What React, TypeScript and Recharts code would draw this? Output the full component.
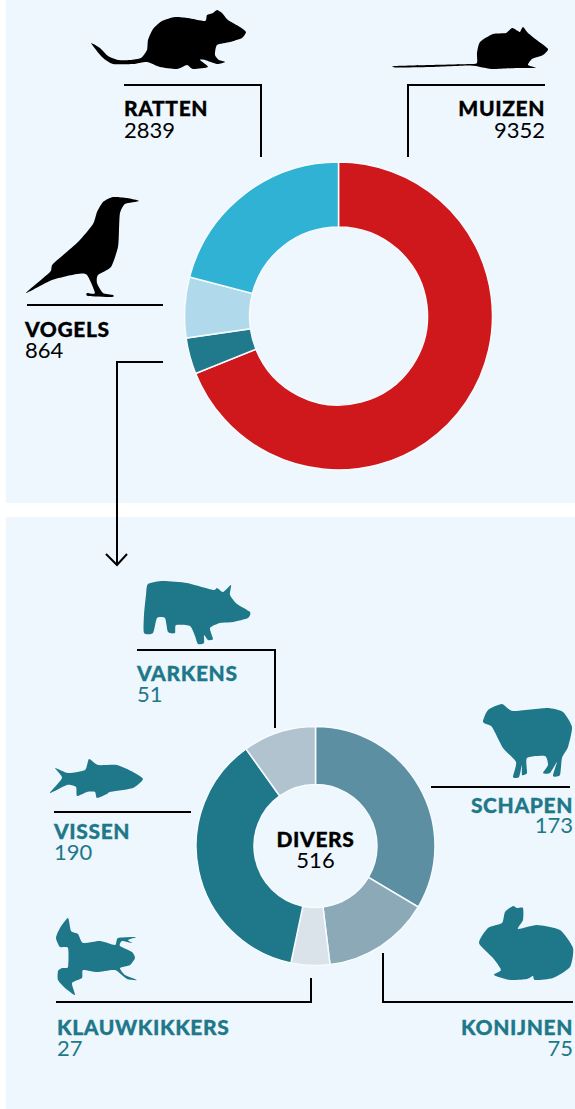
import { PieChart, Pie, Cell } from 'recharts'

const topNames = ['Muizen', 'Divers', 'Vogels', 'Ratten']
const topValues = [9352, 516, 864, 2839]
const topColors = ['#CF181B', '#217A8C', '#B0DAEB', '#30B2D5']

const diversNames = ['Schapen', 'Konijnen', 'Klauwkikkers', 'Vissen', 'Varkens']
const diversValues = [173, 75, 27, 190, 51]
const diversColors = ['#5B8FA1', '#8CA9B7', '#DAE3EA', '#1F788A', '#B1C3CE']

const topData = topNames.map((name, i) => ({ name, value: topValues[i] }))
const diversData = diversNames.map((name, i) => ({ name, value: diversValues[i] }))

const BG = '#EDF7FD'
const TEAL = '#1F788A'
const FONT = 'Lato, sans-serif'

type Pt = number[]

// closed smooth path through the outline points of a silhouette
function outline(p: Pt[]) {
  const n = p.length
  let d = `M${p[0][0]} ${p[0][1]}`
  for (let i = 0; i < n; i++) {
    const a = p[(i - 1 + n) % n]
    const b = p[i]
    const c = p[(i + 1) % n]
    const e = p[(i + 2) % n]
    const k = 0.1
    d += `C${b[0] + (c[0] - a[0]) * k} ${b[1] + (c[1] - a[1]) * k} ${c[0] - (e[0] - b[0]) * k} ${c[1] - (e[1] - b[1]) * k} ${c[0]} ${c[1]}`
  }
  return d + 'Z'
}

const rat: Pt[] = [[91,43],[100,48],[108,56],[118,60],[130,60],[141,58],[147,50],[148,40],[153,29],[162,21],[175,17],[188,18],[205,21],[207,15],[213,13],[217,10],[222,13],[228,20],[240,27],[246,32],[242,38],[230,42],[217,45],[215,55],[219,60],[225,62],[217,64],[205,60],[200,60],[208,67],[193,69],[187,65],[177,69],[160,67],[147,62],[133,64],[113,64],[102,57]]
const mouse: Pt[] = [[395,66],[430,65],[470,64],[477,63],[477,53],[480,42],[493,34],[506,33],[512,28],[518,31],[520,32],[523,27],[528,33],[538,41],[548,49],[543,55],[532,59],[528,65],[536,68],[517,68],[493,69],[480,67],[470,65.5],[430,67],[395,67.5]]
const crow: Pt[] = [[139,201],[125,204],[120,213],[119,230],[118,247],[111,267],[98,275],[97,283],[103,293],[113,295],[112,297],[88,296],[87,293],[95,293],[87,275],[77,274],[52,280],[26,293],[50,272],[53,264],[78,242],[93,224],[97,212],[103,202],[113,197],[127,198]]
const pig: Pt[] = [[250,612],[248,618],[233,622],[220,623],[210,628],[213,639],[208,640],[204,635],[204,643],[198,644],[195,636],[190,626],[176,625],[175,633],[168,632],[165,618],[157,618],[153,633],[144,633],[144,615],[146,595],[148,584],[163,581],[187,583],[213,590],[217,588],[223,592],[231,585],[230,595],[237,604]]
const fish: Pt[] = [[143,779],[133,788],[110,792],[107,794],[97,798],[95,792],[87,792],[77,796],[76,787],[67,785],[50,793],[62,778],[55,768],[68,773],[85,770],[89,759],[98,765],[117,765],[133,772]]
const frog: Pt[] = [[68,918],[71,931],[78,934],[83,943],[100,941],[115,945],[118,938],[136,937],[128,940],[132,943],[122,941],[120,946],[132,952],[135,958],[130,965],[120,968],[125,975],[137,980],[127,979],[115,970],[97,972],[83,970],[82,978],[72,983],[75,995],[65,988],[58,980],[58,971],[62,968],[68,967],[68,948],[60,947],[56,938],[60,928]]
const sheep: Pt[] = [[483,722],[488,710],[502,704],[513,711],[547,708],[563,712],[572,727],[568,747],[562,758],[560,775],[553,776],[557,762],[550,773],[543,773],[548,765],[545,756],[527,758],[527,773],[522,775],[522,765],[519,777],[513,777],[516,762],[503,748],[492,727]]
const rabbit: Pt[] = [[479,943],[488,928],[502,923],[505,912],[513,906],[517,908],[523,908],[523,920],[518,929],[537,925],[560,930],[573,948],[570,967],[553,978],[535,980],[533,976],[527,979],[510,980],[494,975],[501,970],[493,958]]

const leaders = [
  'M124 85H261V157',
  'M545 85H408V157',
  'M27 305H163',
  'M163 362H117V565',
  'M106 554L117 565L127 554',
  'M137 650H275V728',
  'M54 812H191',
  'M56 1002H311V978',
  'M383 953V1002H573',
  'M431 787H570',
]

function Caption({ x, y, y2, title, value, color = '#000', anchor = 'start' }: any) {
  return (
    <g fontFamily={FONT} fill={color} textAnchor={anchor}>
      <text x={x} y={y} fontSize={21} fontWeight={900} letterSpacing={0.6} stroke={color} strokeWidth={0.3}>{title}</text>
      <text x={x} y={y2} fontSize={22}>{value}</text>
    </g>
  )
}

export default function App() {
  return (
    <div style={{ position: 'absolute', left: 0, top: 0, width: 575, height: 1109, background: '#fff', overflow: 'hidden' }}>
      <div style={{ position: 'absolute', left: 6, top: 0, width: 569, height: 503, background: BG }} />
      <div style={{ position: 'absolute', left: 6, top: 517, width: 569, height: 592, background: BG }} />
      <div style={{ position: 'absolute', left: 0, top: 0 }}>
        <PieChart width={575} height={1109} margin={{ top: 0, right: 0, bottom: 0, left: 0 }}>
          <Pie data={topData} dataKey="value" cx={338.5} cy={316} innerRadius={89} outerRadius={154} startAngle={90} endAngle={-270} stroke="#F6FBFE" strokeWidth={1.5} isAnimationActive={false}>
            {topData.map((d, i) => <Cell key={d.name} fill={topColors[i]} />)}
          </Pie>
          <Pie data={diversData} dataKey="value" cx={315.5} cy={846} innerRadius={61.5} outerRadius={119.5} startAngle={90} endAngle={-270} stroke="#F6FBFE" strokeWidth={1.5} isAnimationActive={false}>
            {diversData.map((d, i) => <Cell key={d.name} fill={diversColors[i]} />)}
          </Pie>
        </PieChart>
      </div>
      <svg width={575} height={1109} style={{ position: 'absolute', left: 0, top: 0, pointerEvents: 'none' }}>
        {leaders.map((d) => <path key={d} d={d} fill="none" stroke="#000" strokeWidth={2} />)}
        {[rat, mouse, crow].map((p, i) => <path key={i} d={outline(p)} fill="#000" />)}
        {[pig, fish, frog, sheep, rabbit].map((p, i) => <path key={i} d={outline(p)} fill={TEAL} />)}
        <Caption x={124} y={116} y2={138} title="RATTEN" value="2839" />
        <Caption x={545} y={116} y2={138} title="MUIZEN" value="9352" anchor="end" />
        <Caption x={25} y={337} y2={358} title="VOGELS" value="864" />
        <Caption x={137} y={681} y2={702} title="VARKENS" value="51" color={TEAL} />
        <Caption x={54} y={839} y2={860} title="VISSEN" value="190" color={TEAL} />
        <Caption x={57} y={1035} y2={1056} title="KLAUWKIKKERS" value="27" color={TEAL} />
        <Caption x={573} y={813} y2={833} title="SCHAPEN" value="173" color={TEAL} anchor="end" />
        <Caption x={573} y={1035} y2={1056} title="KONIJNEN" value="75" color={TEAL} anchor="end" />
        <Caption x={315.5} y={847} y2={868} title="DIVERS" value="516" anchor="middle" />
      </svg>
    </div>
  )
}
